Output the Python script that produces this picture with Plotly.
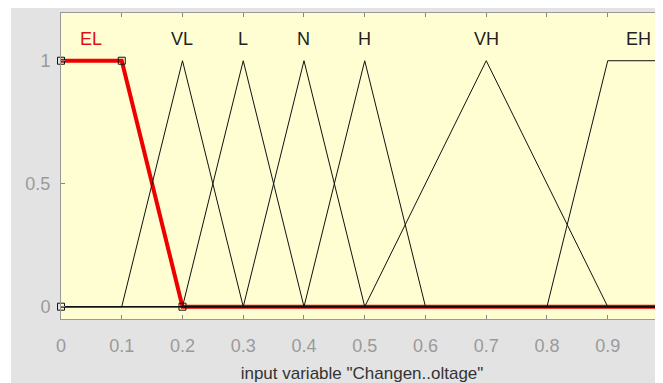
import plotly.graph_objects as go

# Membership function definitions (input variable "Change in voltage")
mf_names = ["EL", "VL", "L", "N", "H", "VH", "EH"]
mf_x = [
    [0.0, 0.0, 0.1, 0.2, 1.0],
    [0.0, 0.1, 0.2, 0.3, 1.0],
    [0.0, 0.2, 0.3, 0.4, 1.0],
    [0.0, 0.3, 0.4, 0.5, 1.0],
    [0.0, 0.4, 0.5, 0.6, 1.0],
    [0.0, 0.5, 0.7, 0.9, 1.0],
    [0.0, 0.8, 0.9, 1.0],
]
mf_y = [
    [1, 1, 1, 0, 0],
    [0, 0, 1, 0, 0],
    [0, 0, 1, 0, 0],
    [0, 0, 1, 0, 0],
    [0, 0, 1, 0, 0],
    [0, 0, 1, 0, 0],
    [0, 0, 1, 1],
]
label_x = [0.05, 0.2, 0.3, 0.4, 0.5, 0.7, 0.95]
label_y = 1.087
handle_x = [0.0, 0.0, 0.1, 0.2]
handle_y = [0.0, 1.0, 1.0, 0.0]
x_ticks = [0, 0.1, 0.2, 0.3, 0.4, 0.5, 0.6, 0.7, 0.8, 0.9]
y_ticks = [0, 0.5, 1]

FONT = "Liberation Sans Narrow, Liberation Sans, Arial"

# page body has an 8px margin; the figure is laid out in page coords - 8
OFF = 8
W, H = 663 - OFF, 383 - OFF
L, R, T, B = 61 - OFF, 0, 13 - OFF, 383 - 319
pw, ph = W - L - R, H - T - B

fig = go.Figure()

# selected MF (EL) in red, thick
fig.add_trace(go.Scatter(x=mf_x[0][1:], y=mf_y[0][1:], mode="lines",
                         line=dict(color="#ee0000", width=4), hoverinfo="skip"))
fig.add_trace(go.Scatter(x=mf_x[0][3:], y=mf_y[0][3:], mode="lines",
                         line=dict(color="#8a0000", width=2), hoverinfo="skip"))

# other MFs black thin
for i in range(1, len(mf_names)):
    fig.add_trace(go.Scatter(x=mf_x[i], y=mf_y[i], mode="lines",
                             line=dict(color="#111111", width=1), hoverinfo="skip"))

# handles
fig.add_trace(go.Scatter(x=handle_x, y=handle_y, mode="markers",
                         marker=dict(symbol="square-open", size=7,
                                     color="#111111", line=dict(width=1)),
                         hoverinfo="skip", cliponaxis=False))

for name, lx in zip(mf_names, label_x):
    fig.add_annotation(x=lx, y=label_y, text=name, showarrow=False,
                       font=dict(family=FONT, size=18,
                                 color="#e01010" if name == "EL" else "#222222"))

# white strip at the left of the gray panel
px = lambda p: (p - L) / pw
py = lambda p: (H - B - p) / ph
fig.add_shape(type="rect", xref="paper", yref="paper",
              x0=px(-1), x1=px(11 - OFF), y0=py(H + 1), y1=py(-1),
              fillcolor="white", line=dict(width=0), layer="below")

axis_common = dict(showgrid=False, zeroline=False, showline=True, linecolor="#999999",
                   linewidth=1, mirror="ticks", ticks="inside", ticklen=4,
                   tickcolor="#888888",
                   tickfont=dict(family=FONT, size=18, color="#9a9a9a"))

fig.update_xaxes(range=[0, 0.991], tickvals=x_ticks,
                 ticktext=[str(t) for t in x_ticks], ticklabelstandoff=10,
                 title=dict(text='input variable "Changen..oltage"', standoff=14,
                            font=dict(family=FONT, size=17, color="#333333")),
                 **axis_common)
fig.update_yaxes(range=[-0.05, 1.194], tickvals=y_ticks, ticklabelstandoff=6,
                 ticktext=["0", "0.5", "1"], **axis_common)

fig.update_layout(width=W, height=H, showlegend=False,
                  margin=dict(l=L, r=R, t=T, b=B, pad=0),
                  plot_bgcolor="#fefed2", paper_bgcolor="#e3e3e3")

fig.write_html("out.html")
